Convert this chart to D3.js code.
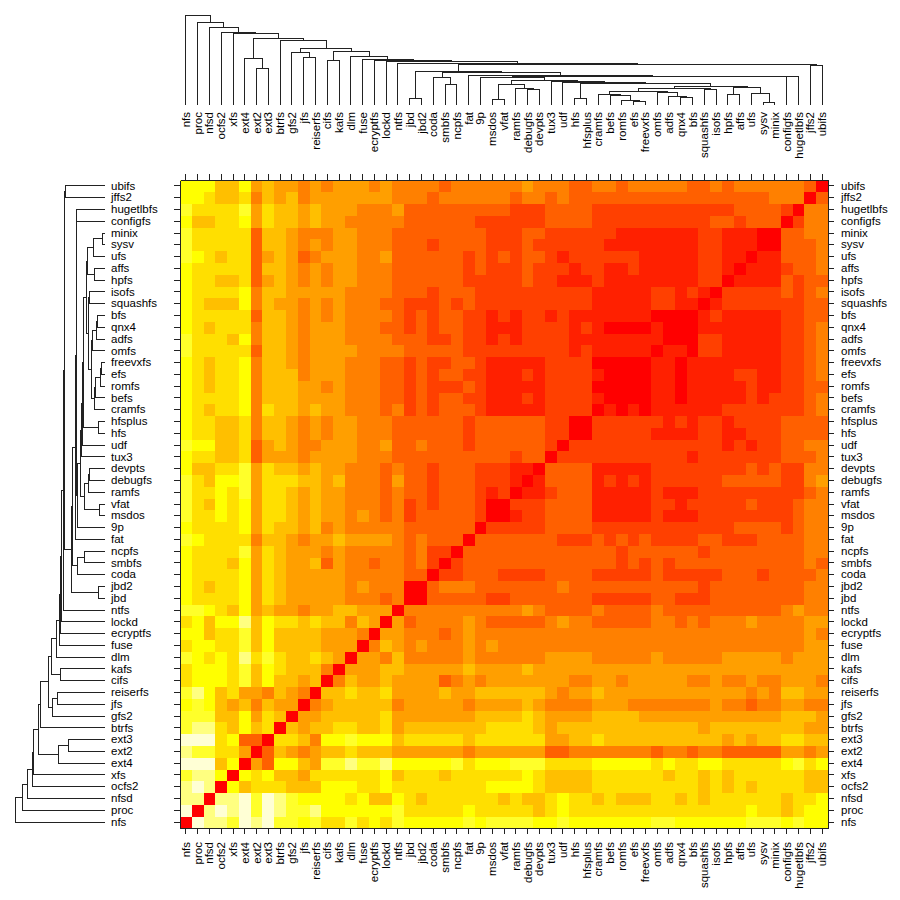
<!DOCTYPE html>
<html lang="en">
<head>
  <meta charset="UTF-8">
  <title>Heatmap</title>
  <script src="https://d3js.org/d3.v7.min.js"></script>
  <style>
    body { margin: 0; background: #fff; }
    svg { display: block; }
    text { font-family: "Liberation Sans", Arial, sans-serif; font-size: 11.5px; fill: #000; }
    .cell { shape-rendering: crispEdges; }
    .axis path, .axis line { stroke: #222; shape-rendering: crispEdges; }
    .tree path { fill: none; stroke: #222; stroke-width: 1; shape-rendering: crispEdges; }
  </style>
</head>
<body>
  <script>
    const labels = ["nfs", "proc", "nfsd", "ocfs2", "xfs", "ext4", "ext2", "ext3", "btrfs", "gfs2", "jfs", "reiserfs", "cifs", "kafs", "dlm", "fuse", "ecryptfs", "lockd", "ntfs", "jbd", "jbd2", "coda", "smbfs", "ncpfs", "fat", "9p", "msdos", "vfat", "ramfs", "debugfs", "devpts", "tux3", "udf", "hfs", "hfsplus", "cramfs", "befs", "romfs", "efs", "freevxfs", "omfs", "adfs", "qnx4", "bfs", "squashfs", "isofs", "hpfs", "affs", "ufs", "sysv", "minix", "configfs", "hugetlbfs", "jffs2", "ubifs"];

    // heat.colors(12), index = level
    const levelColors = ["#FF0000", "#FF2000", "#FF4000", "#FF6000", "#FF8000", "#FF9F00", "#FFBF00", "#FFDF00", "#FFFF00", "#FFFF2A", "#FFFF80", "#FFFFD5"];

    // levels by row (nfs first), one hex digit per column
    // rows 0-18, columns 0-54
    const rowsA = [
      "0BAA9BAB99897797879 888889899998898888 888998888889998988",
      "B0ABAB9BA99A8888889 777778777776787777 777777777778776788",
      "AA0AAB9BA9888878668 767777776766787767 666776767777776778",
      "ABA0867776668887787 777777788887666677 777777767676777766",
      "9AA8087866577777786 777677777787666677 777767767677777766",
      "BBB68053886599A99A8 888897888999777788 888787788777778978",
      "A997750365456676665 555554555555334444 444344344333335545",
      "BBB7833077648898886 777776777777556676 666666666565667766",
      "9AA7686706566776675 666666677776566666 666666656666666655",
      "9996685760556666675 555555666676555566 665555555555556665",
      "8986564655045666664 555554555565444455 544444445443445544",
      "9A86755465406676675 555655666666545565 555555555554546655",
      "7888796866560465565 555345455555554455 455555445445445554",
      "7888796876664055566 555556555565555555 555555555555555555",
      "98787A7976676505546 444445444444555544 444544444555554555",
      "7888796866665550465 454445454444444444 444444444444444455",
      "8867796866665554055 444345444444444444 444444444444444454",
      "78688A6877676646505 344445433333454433 333443434445444455",
      "8877685655465555550 444444444454333343 333433333333334544"
    ];
    // rows 19-36, columns 19-54
    const rowsB = [
      "003333322333333322 222332223333333344",
      "003444333333343333 333333323333333344",
      "330223332222333322 222322222333233334",
      "342023333333333333 232323333333333343",
      "342203333333333333 233333323333333344",
      "343330333333322232 323222233222333344",
      "333333022222333322 222222222233332344",
      "233333200122333311 111211122222222344",
      "232333200222333311 111221222223222344",
      "332333212011233311 111211122222222234",
      "332333222101333312 121222222333332245",
      "332333222110333311 111222222223232244",
      "333333333233022222 222222122222223334",
      "343332333333202222 222222222121223344",
      "333332333333220022 222111122112223333",
      "333332333333220022 222212122122223333",
      "232333211111222201 010111111222222234",
      "232332211121222210 000110111112122234"
    ];
    // rows 37-54, columns 37-54
    const rowsC = [
      "000110111112112233",
      "000110111122112234",
      "000110111111112234",
      "111011022111112234",
      "111100022111112234",
      "000100011111112234",
      "111000012111112233",
      "111221101222222233",
      "111221210222223234",
      "111111122011113233",
      "112111122101112334",
      "221111122110113334",
      "111111122111003334",
      "111111122111003344",
      "222222223323330244",
      "222222222233332044",
      "333333333333344403",
      "344444334344444430"
    ];

    // [left, right, height]: a string is a leaf, a number is an earlier merge
    const merges = [
      ["ext2", "ext3", 36.7], ["ext4", 0, 46.7], ["jfs", "reiserfs", 47.3], ["gfs2", 2, 52.7],
      ["cifs", "kafs", 44.3], ["jbd", "jbd2", 6.7], ["smbfs", "ncpfs", 20.3], ["coda", 6, 27.7],
      ["msdos", "vfat", 5.7], ["debugfs", "devpts", 15.7], ["ramfs", 9, 16.3], [8, 10, 20.7],
      ["hfs", "hfsplus", 7], ["efs", "freevxfs", 4], ["romfs", 13, 4.7], ["befs", 14, 9.3],
      ["cramfs", 15, 10.7], ["qnx4", "bfs", 7.7], ["adfs", 17, 8.3], ["omfs", 18, 12.3],
      [16, 19, 13.7], ["squashfs", "isofs", 15.7], [20, 21, 16.7], ["hpfs", "affs", 10.3],
      ["sysv", "minix", 2.3], ["ufs", 24, 12], [23, 25, 17.7], [22, 26, 18.3],
      [12, 27, 21.7], ["udf", 28, 23], ["tux3", 29, 24], [11, 30, 24.7],
      ["9p", 31, 27.7], ["configfs", "hugetlbfs", 28.3], [32, 33, 29], ["fat", 34, 29.7],
      [7, 35, 32.3], [5, 36, 33.7], ["jffs2", "ubifs", 39.3], [37, 38, 40.7],
      ["ntfs", 39, 41.7], ["lockd", 40, 43.7], ["ecryptfs", 41, 44.7], ["fuse", 42, 45.7],
      ["dlm", 43, 48.7], [4, 44, 53.3], [3, 45, 56.7], ["btrfs", 46, 64.3],
      [1, 47, 66.7], ["xfs", 48, 71.7], ["ocfs2", 49, 73], ["nfsd", 50, 77.7],
      ["proc", 51, 82.3], ["nfs", 52, 89.7]
    ];

    const size = 900;
    const x0 = 180, x1 = 828;
    const treeNear = 105, treeFar = 15;

    const clean = rows => rows.map(r => r.replace(/ /g, ""));
    const blockA = clean(rowsA), blockB = clean(rowsB), blockC = clean(rowsC);

    // the matrix is symmetric, only the part above the diagonal is looked up
    function level(r, c) {
      const i = Math.min(r, c), j = Math.max(r, c);
      let ch;
      if (i < 19) ch = blockA[i][j];
      else if (i < 37) ch = blockB[i - 19][j - 19];
      else ch = blockC[i - 37][j - 37];
      return parseInt(ch, 16);
    }

    const svg = d3.select("body").append("svg")
      .attr("width", size)
      .attr("height", size);

    const xScale = d3.scaleBand().domain(labels).range([x0, x1]);
    const yScale = d3.scaleBand().domain(labels).range([x1, x0]);
    const hScale = d3.scaleLinear().domain([0, 90]).range([treeNear, treeFar]);

    // Cells
    const cells = d3.cross(d3.range(labels.length), d3.range(labels.length));
    svg.append("g").selectAll("rect")
      .data(cells)
      .enter()
      .append("rect")
      .attr("class", "cell")
      .attr("x", d => xScale(labels[d[1]]))
      .attr("y", d => yScale(labels[d[0]]))
      .attr("width", xScale.bandwidth() + 0.5)
      .attr("height", yScale.bandwidth() + 0.5)
      .attr("fill", d => levelColors[level(d[0], d[1])]);

    // Axes
    const axisLeft = svg.append("g").attr("class", "axis")
      .attr("transform", `translate(${x0},0)`)
      .call(d3.axisLeft(yScale).tickSize(6).tickSizeOuter(0));
    axisLeft.selectAll("text").attr("x", -69).attr("text-anchor", "start");

    svg.append("g").attr("class", "axis")
      .attr("transform", `translate(${x1},0)`)
      .call(d3.axisRight(yScale).tickSize(6).tickSizeOuter(0).tickPadding(7));

    const axisTop = svg.append("g").attr("class", "axis")
      .attr("transform", `translate(0,${x0})`)
      .call(d3.axisTop(xScale).tickSize(6).tickSizeOuter(0));
    axisTop.selectAll("text")
      .attr("x", 0).attr("y", 0).attr("dy", "0.35em")
      .attr("text-anchor", "end")
      .attr("transform", "translate(0,-68) rotate(-90)");

    const axisBottom = svg.append("g").attr("class", "axis")
      .attr("transform", `translate(0,${x1})`)
      .call(d3.axisBottom(xScale).tickSize(6).tickSizeOuter(0));
    axisBottom.selectAll("text")
      .attr("x", 0).attr("y", 0).attr("dy", "0.35em")
      .attr("text-anchor", "end")
      .attr("transform", "translate(0,14) rotate(-90)");

    // Dendrograms
    const nodes = [];
    merges.forEach(m => {
      const ends = [m[0], m[1]].map(k => typeof k === "string"
        ? { pos: xScale(k) + xScale.bandwidth() / 2, h: 0 }
        : nodes[k]);
      nodes.push({ pos: (ends[0].pos + ends[1].pos) / 2, h: m[2], a: ends[0], b: ends[1] });
    });

    // the left tree runs along the rows, which count upwards
    const flip = p => x0 + x1 - p;

    svg.append("g").attr("class", "tree").selectAll("path")
      .data(nodes)
      .enter()
      .append("path")
      .attr("d", d => `M${d.a.pos},${hScale(d.a.h)}V${hScale(d.h)}H${d.b.pos}V${hScale(d.b.h)}`);

    svg.append("g").attr("class", "tree").selectAll("path")
      .data(nodes)
      .enter()
      .append("path")
      .attr("d", d => `M${hScale(d.a.h)},${flip(d.a.pos)}H${hScale(d.h)}V${flip(d.b.pos)}H${hScale(d.b.h)}`);
  </script>
</body>
</html>
